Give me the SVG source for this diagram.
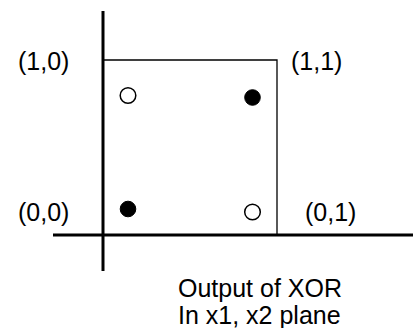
<svg xmlns="http://www.w3.org/2000/svg" width="413" height="328" viewBox="0 0 413 328">
<style>
.lbl{font-family:"Liberation Sans",Arial,sans-serif;font-size:25px;fill:#000}
.axis{stroke:#000;stroke-width:3;fill:none}
.box{stroke:#000;stroke-width:1.3;fill:none}
.open{fill:#fff;stroke:#000;stroke-width:1.5}
.filled{fill:#000;stroke:#000;stroke-width:1}
</style>
<rect width="413" height="328" fill="#fff"/>
<g id="connectors">
<line class="axis" x1="103" y1="11" x2="103" y2="271"/>
<line class="axis" x1="53" y1="235" x2="413" y2="235"/>
<polyline class="box" points="103,60 277,60 277,235"/>
</g>
<g id="p10"><circle class="open" cx="128" cy="95.5" r="7.8"/><text class="lbl" x="18" y="70">(1,0)</text></g>
<g id="p11"><circle class="filled" cx="252.5" cy="97.5" r="7.8"/><text class="lbl" x="291" y="70">(1,1)</text></g>
<g id="p00"><circle class="filled" cx="128" cy="209" r="7.8"/><text class="lbl" x="18" y="221">(0,0)</text></g>
<g id="p01"><circle class="open" cx="252.5" cy="212" r="7.8"/><text class="lbl" x="305" y="221">(0,1)</text></g>
<g id="caption">
<text class="lbl" x="178" y="297">Output of XOR</text>
<text class="lbl" x="178" y="324">In x1, x2 plane</text>
</g>
</svg>
